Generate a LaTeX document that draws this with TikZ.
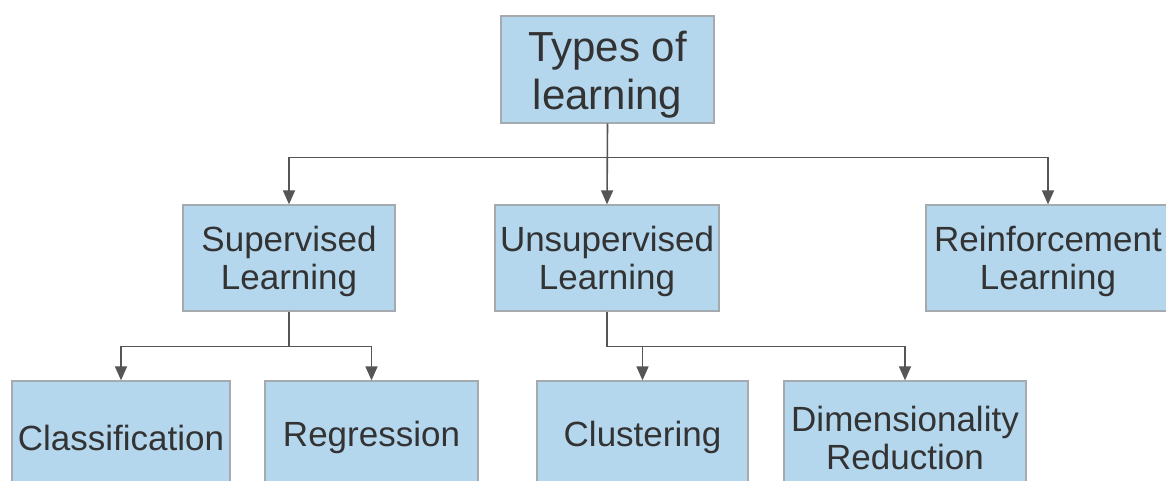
\documentclass[tikz,border=0pt]{standalone}
\usepackage{fontspec}
\setmainfont{Liberation Sans}
\usetikzlibrary{arrows.meta}

\definecolor{boxfill}{RGB}{180,215,238}
\definecolor{boxline}{RGB}{165,170,175}
\definecolor{linkcol}{RGB}{85,85,85}
\definecolor{textcol}{RGB}{51,51,51}

\tikzset{
	box/.style={draw=boxline, line width=1.3pt, fill=boxfill,
		inner sep=0pt, minimum height=106pt},
	txt/.style={text=textcol, align=center, inner sep=0pt, yshift=-3.5pt,
		font=\fontsize{35}{38}\selectfont},
	link/.style={draw=linkcol, line width=1.6pt,
		-{Triangle[length=14pt,width=12pt]}}
}

\begin{document}
\begin{tikzpicture}[x=1pt,y=-1pt] %pixel grid, y down
	\useasboundingbox (0,0) rectangle (1166,481);
	\clip (0,0) rectangle (1166,481);
	\fill[white] (0,0) rectangle (1166,481);
	% root
	\node[box, minimum width=213pt, minimum height=107pt] (types) at (607.5,69.5) {};
	\node[txt, yshift=-1.5pt, font=\fontsize{42}{48}\selectfont] (typesT) at (types) {Types of\\learning};
	% second row
	\node[box, minimum width=212pt] (sup) at (289,258) {};
	\node[box, minimum width=224pt] (unsup) at (607,258) {};
	\node[box, minimum width=244pt] (reinf) at (1048,258) {};
	\node[txt] (supT) at (sup) {Supervised\\Learning};
	\node[txt] (unsupT) at (unsup) {Unsupervised\\Learning};
	\node[txt] (reinfT) at (reinf) {Reinforcement\\Learning};
	% third row
	\node[box, minimum width=218pt] (class) at (121,434) {};
	\node[box, minimum width=213pt] (regr) at (371.5,434) {};
	\node[box, minimum width=211pt] (clus) at (642.5,434) {};
	\node[box, minimum width=242pt] (dimred) at (905,434) {};
	\node[txt] (classT) at (class) {Classification};
	\node[txt] (regrT) at (regr) {Regression};
	\node[txt] (clusT) at (clus) {Clustering};
	\node[txt] (dimredT) at (dimred) {Dimensionality\\Reduction};
	% links from the root
	\draw[link] (types.south) -- (unsup.north);
	\draw[link] (types.south) -- ++(0,34) -| (sup.north);
	\draw[link] (types.south) -- ++(0,34) -| (reinf.north);
	% supervised
	\draw[link] (sup.south) -- ++(0,35) -| (class.north);
	\draw[link] (sup.south) -- ++(0,35) -| (regr.north);
	% unsupervised
	\draw[link] (unsup.south) -- ++(0,35) -| (clus.north);
	\draw[link] (unsup.south) -- ++(0,35) -| (dimred.north);
\end{tikzpicture}
\end{document}
